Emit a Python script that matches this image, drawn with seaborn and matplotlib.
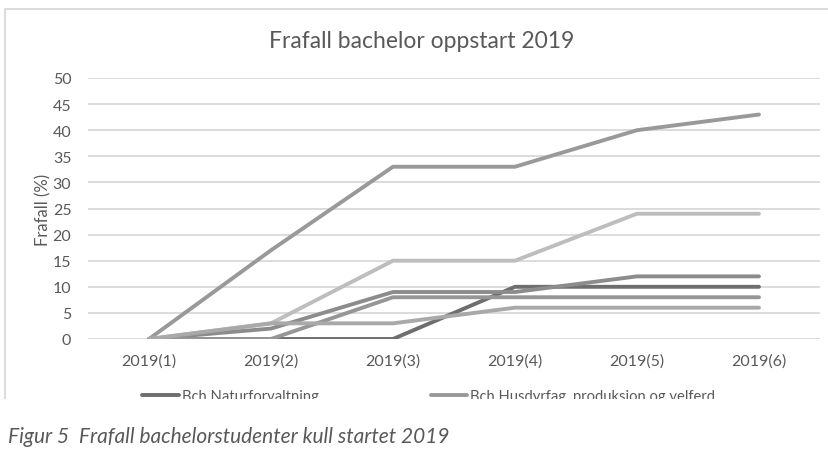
import numpy as np
import pandas as pd
import matplotlib
matplotlib.use("Agg")
import matplotlib.pyplot as plt
import seaborn as sb
from matplotlib.patches import Rectangle

# Données
semestre = ["2019(1)", "2019(2)", "2019(3)", "2019(4)", "2019(5)", "2019(6)"]
husdyrfag = [0, 17, 33, 33, 40, 43]
serie_b = [0, 3, 15, 15, 24, 24]
naturforvaltning = [0, 0, 0, 10, 10, 10]
serie_d = [0, 2, 9, 9, 12, 12]
serie_e = [0, 0, 8, 8, 8, 8]
serie_f = [0, 3, 3, 6, 6, 6]

noms = ["Bch Naturforvaltning", "Bch Husdyrfag, produksjon og velferd",
        "Serie 3", "Serie 4", "Serie 5", "Serie 6"]
valeurs = [naturforvaltning, husdyrfag, serie_b, serie_d, serie_e, serie_f]
couleurs = ["#6e6e6e", "#999999", "#bdbdbd", "#8c8c8c", "#969696", "#a9a9a9"]

df = pd.DataFrame({
    "semestre": semestre * len(noms),
    "pos": list(range(len(semestre))) * len(noms),
    "serie": [n for n in noms for _ in semestre],
    "frafall": [v for serie in valeurs for v in serie],
})

sb.set_style("white")
plt.rcParams["font.family"] = ["Lato", "DejaVu Sans"]

fig = plt.figure(figsize=(8.29, 4.77), dpi=100)
ax = fig.add_axes([88 / 829, 1 - 340 / 477, 732 / 829, 261 / 477])

sb.lineplot(data=df, x="pos", y="frafall", hue="serie", hue_order=noms,
            palette=dict(zip(noms, couleurs)), linewidth=2.8, ax=ax,
            legend=False, sort=False)
for ligne in ax.lines:
    ligne.set_solid_capstyle("round")
    ligne.set_solid_joinstyle("round")

ax.set_xlim(-0.5, 5.5)
ax.set_ylim(0, 50)
ax.set_yticks(np.arange(0, 51, 5))
ax.set_xticks(range(len(semestre)))
ax.set_xticklabels(semestre)
ax.grid(axis="y", color="#d9d9d9", linewidth=1.3)
ax.set_axisbelow(True)
for s in ax.spines.values():
    s.set_visible(False)
ax.tick_params(axis="both", length=0, labelsize=11.5, colors="#595959")
ax.tick_params(axis="y", pad=12)
ax.tick_params(axis="x", pad=10)
ax.set_xlabel("")
ax.set_ylabel("Frafall (%)", fontsize=12, color="#595959", labelpad=1)

fig.text(422 / 829, 1 - 42 / 477, "Frafall bachelor oppstart 2019",
         ha="center", va="center", fontsize=16.5, color="#595959")

# Légende (coupée en bas comme sur la capture)
poignees = [ax.lines[0], ax.lines[1]]
leg = ax.legend(poignees, noms[:2], ncol=2, frameon=False,
                loc="upper left", bbox_to_anchor=(142 / 829, 1 - 390 / 477),
                bbox_transform=fig.transFigure, fontsize=10.6,
                handlelength=2.5, handletextpad=0.2, columnspacing=7.6,
                borderaxespad=0, borderpad=0, labelcolor="#595959")

# Cadre du graphique
fig.patches.append(Rectangle((5 / 829, 0), 1, 1 - 10 / 477, transform=fig.transFigure,
                             fill=False, edgecolor="#d9d9d9", linewidth=1.3, zorder=5))
# Capture coupée sous y=400
fig.patches.append(Rectangle((0, 0), 1, 1 - 400 / 477, transform=fig.transFigure,
                             facecolor="white", edgecolor="none", zorder=10))

fig.text(8 / 829, 1 - 437 / 477, "Figur 5  Frafall bachelorstudenter kull startet 2019",
         ha="left", va="center", fontsize=15, style="italic", color="#595959",
         zorder=20)

fig.savefig("out.png", dpi=100)
